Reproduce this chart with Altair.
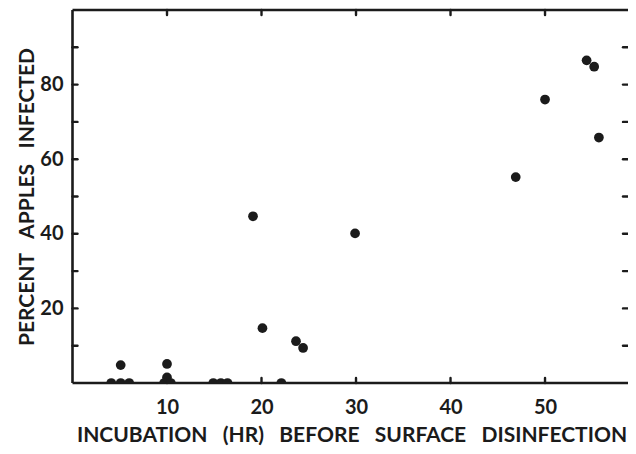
import altair as alt
import pandas as pd

# Data
hours = [4.1, 5.1, 6.0, 5.1, 9.7, 10.0, 10.4, 10.0, 14.9, 15.7, 16.4, 22.1,
         19.1, 20.1, 23.65, 24.4, 29.9, 46.9, 50.0, 54.4, 55.2, 55.7]
pct_infected = [0, 0, 0, 4.8, 0, 1.5, 0, 5.1, 0, 0, 0, 0,
                44.7, 14.7, 11.2, 9.4, 40.1, 55.2, 76.0, 86.5, 84.8, 65.8]
x_labels = [10, 20, 30, 40, 50]
y_labels = [20, 40, 60, 80]
y_ticks = [10, 20, 30, 40, 50, 60, 70, 80, 90]
x_ticks = [10, 20, 30, 40, 50]

W = 555.5
H = 373
XMAX = 58.78
INK = "#1b1b1b"
FONT = "Lato"
FS_LAB = 20
FS_TIT = 21
TL = 5  # tick length
SW = 2.6
GAP = "\u00a0\u00a0\u00a0"

df = pd.DataFrame({"hours": hours, "pct": pct_infected})
xs = alt.Scale(domain=[0, XMAX], nice=False, zero=False)
ys = alt.Scale(domain=[0, 100], nice=False)

x_title = GAP.join(["INCUBATION", "(HR)", "BEFORE", "SURFACE", "DISINFECTION"])
y_title = GAP.join(["PERCENT", "APPLES", "INFECTED"])

points = alt.Chart(df).mark_circle(size=95, color=INK, opacity=1, clip=True).encode(
    x=alt.X("hours:Q", scale=xs,
            axis=alt.Axis(values=x_labels, title=x_title, labelPadding=14,
                          titlePadding=7, titleX=279, titleAlign="center")),
    y=alt.Y("pct:Q", scale=ys,
            axis=alt.Axis(values=y_labels, title=y_title, labelPadding=9.5,
                          titleX=-45, titleBaseline="middle")),
)

one = alt.Data(values=[{"a": 1}])
frame_left = alt.Chart(one).mark_rule(color=INK, strokeWidth=SW).encode(
    x=alt.value(0), y=alt.value(0), y2=alt.value(H))
frame_top = alt.Chart(one).mark_rule(color=INK, strokeWidth=SW).encode(
    x=alt.value(0), x2=alt.value(W), y=alt.value(0))
frame_bottom = alt.Chart(one).mark_rule(color=INK, strokeWidth=SW).encode(
    x=alt.value(0), x2=alt.value(W), y=alt.value(H))

ydf = pd.DataFrame({"t": y_ticks})
xdf = pd.DataFrame({"t": x_ticks})
tick_left = alt.Chart(ydf).mark_rule(color=INK, strokeWidth=2.4, strokeCap="round").encode(
    y=alt.Y("t:Q", scale=ys), x=alt.value(0), x2=alt.value(TL))
tick_right = alt.Chart(ydf).mark_rule(color=INK, strokeWidth=2.4, strokeCap="round").encode(
    y=alt.Y("t:Q", scale=ys), x=alt.value(W - TL), x2=alt.value(W))
tick_top = alt.Chart(xdf).mark_rule(color=INK, strokeWidth=2.4, strokeCap="round").encode(
    x=alt.X("t:Q", scale=xs), y=alt.value(0), y2=alt.value(TL))
tick_bottom = alt.Chart(xdf).mark_rule(color=INK, strokeWidth=2.4, strokeCap="round").encode(
    x=alt.X("t:Q", scale=xs), y=alt.value(H - TL), y2=alt.value(H))

chart = alt.layer(
    tick_left, tick_right, tick_top, tick_bottom,
    frame_left, frame_top, frame_bottom, points
).properties(
    width=W, height=H,
    autosize=alt.AutoSizeParams(type="none"),
    padding={"left": 64.5, "top": 2, "right": 0, "bottom": 63},
).configure_view(stroke=None).configure_axis(
    domain=False, ticks=False, grid=False,
    labelFont=FONT, labelFontSize=FS_LAB, labelFontWeight="bold", labelColor=INK,
    titleFont=FONT, titleFontSize=FS_TIT, titleFontWeight="bold", titleColor=INK,
)

chart.save("out.html", embed_options={"renderer": "svg", "actions": False})
